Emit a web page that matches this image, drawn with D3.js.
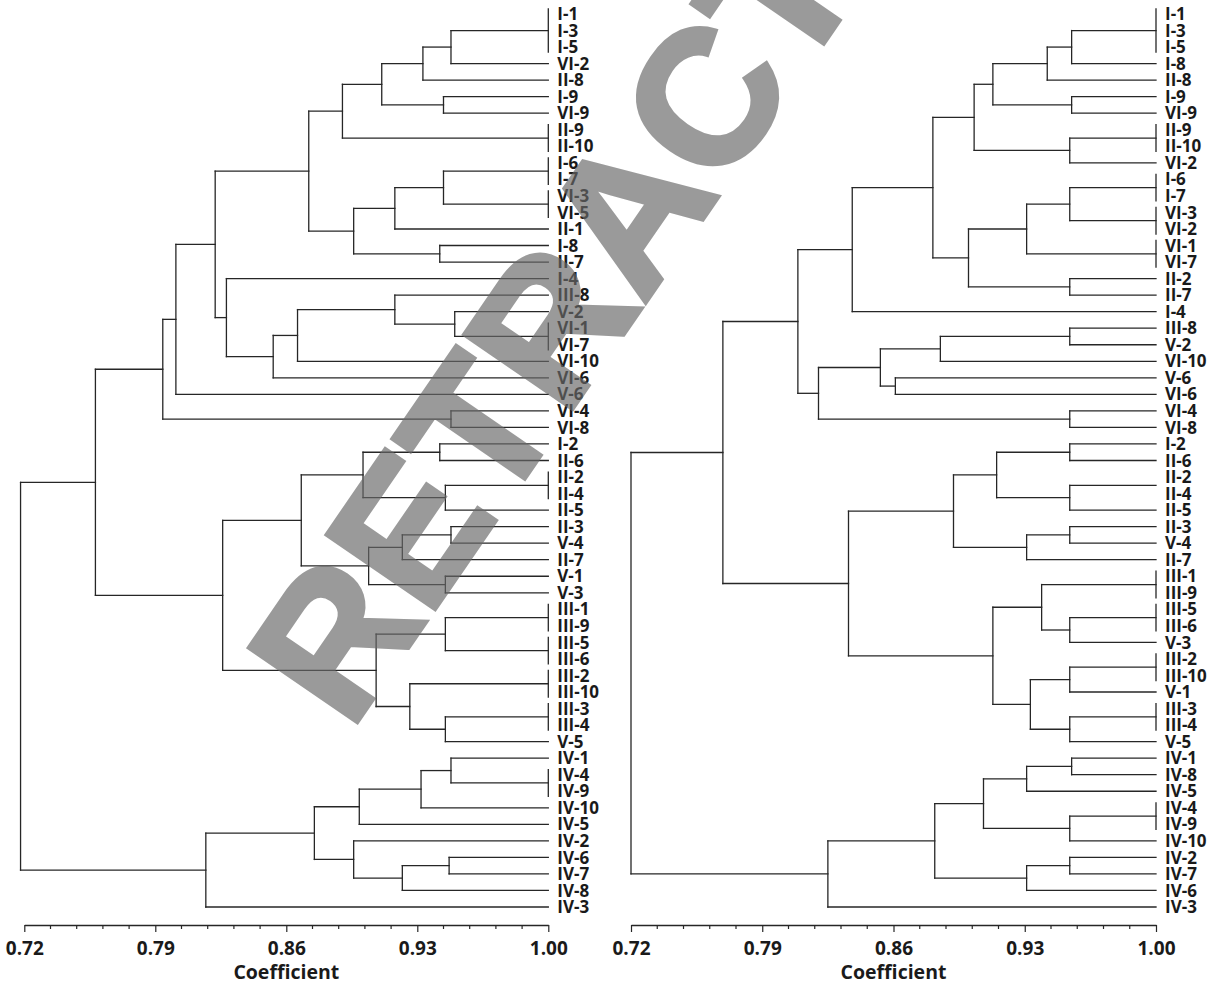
<!DOCTYPE html>
<html>
<head>
<meta charset="utf-8">
<script src="https://cdn.jsdelivr.net/npm/d3@7"></script>
<style>
body{margin:0;background:#fff;}
.lbl,.tick text,.title{font-family:"Open Sans",sans-serif;font-weight:700;fill:#1a1a1a;}
</style>
</head>
<body>
<script>
// leaf order, top to bottom
var leftLeaves=["I-1","I-3","I-5","VI-2","II-8","I-9","VI-9","II-9","II-10","I-6","I-7","VI-3","VI-5","II-1","I-8","II-7","I-4","III-8","V-2","VI-1","VI-7","VI-10","VI-6","V-6","VI-4","VI-8","I-2","II-6","II-2","II-4","II-5","II-3","V-4","II-7","V-1","V-3","III-1","III-9","III-5","III-6","III-2","III-10","III-3","III-4","V-5","IV-1","IV-4","IV-9","IV-10","IV-5","IV-2","IV-6","IV-7","IV-8","IV-3"]
var rightLeaves=["I-1","I-3","I-5","I-8","II-8","I-9","VI-9","II-9","II-10","VI-2","I-6","I-7","VI-3","VI-2","VI-1","VI-7","II-2","II-7","I-4","III-8","V-2","VI-10","V-6","VI-6","VI-4","VI-8","I-2","II-6","II-2","II-4","II-5","II-3","V-4","II-7","III-1","III-9","III-5","III-6","V-3","III-2","III-10","V-1","III-3","III-4","V-5","IV-1","IV-8","IV-5","IV-4","IV-9","IV-10","IV-2","IV-7","IV-6","IV-3"]

// merges, bottom up: [name, coefficient, children]  (numbers = leaf index)
var leftMerges=[
  ["a1",1.00,[0,1,2]],["a2",0.948,["a1",3]],["a3",0.933,["a2",4]],["a4",0.944,[5,6]],
  ["a5",0.911,["a3","a4"]],["a6",1.00,[7,8]],["a7",0.890,["a5","a6"]],
  ["b1",1.00,[9,10]],["b2",1.00,[11,12]],["b3",0.944,["b1","b2"]],["b4",0.918,["b3",13]],
  ["b5",0.942,[14,15]],["b6",0.896,["b4","b5"]],["c1",0.872,["a7","b6"]],
  ["d1",1.00,[19,20]],["d2",0.950,[18,"d1"]],["d3",0.918,[17,"d2"]],["d4",0.866,["d3",21]],
  ["d5",0.853,["d4",22]],["d6",0.828,[16,"d5"]],["c2",0.822,["c1","d6"]],["c3",0.801,["c2",23]],
  ["e1",0.948,[24,25]],["c4",0.794,["c3","e1"]],
  ["f1",0.942,[26,27]],["f2",1.00,[28,29]],["f3",0.945,["f2",30]],["f4",0.901,["f1","f3"]],
  ["f5",0.948,[31,32]],["f6",0.922,["f5",33]],["f7",0.945,[34,35]],["f8",0.904,["f6","f7"]],
  ["f9",0.868,["f4","f8"]],
  ["g1",1.00,[36,37]],["g2",1.00,[38,39]],["g3",0.945,["g1","g2"]],["g4",1.00,[40,41]],
  ["g5",1.00,[42,43]],["g6",0.945,["g5",44]],["g7",0.926,["g4","g6"]],["g8",0.908,["g3","g7"]],
  ["h1",0.826,["f9","g8"]],["h2",0.758,["c4","h1"]],
  ["i1",1.00,[46,47]],["i2",0.948,[45,"i1"]],["i3",0.932,["i2",48]],["i4",0.899,["i3",49]],
  ["i5",0.947,[51,52]],["i6",0.922,["i5",53]],["i7",0.896,[50,"i6"]],["i8",0.875,["i4","i7"]],
  ["i9",0.817,["i8",54]],
  ["root",0.718,["h2","i9"]]
]
var rightMerges=[
  ["a1",1.00,[0,1,2]],["a2",0.955,["a1",3]],["a3",0.942,["a2",4]],["a4",0.955,[5,6]],
  ["a5",0.913,["a3","a4"]],["a6",1.00,[7,8]],["a7",0.954,["a6",9]],["a8",0.903,["a5","a7"]],
  ["b1",1.00,[10,11]],["b2",1.00,[12,13]],["b3",0.954,["b1","b2"]],["b4",1.00,[14,15]],
  ["b5",0.931,["b3","b4"]],["b6",0.954,[16,17]],["b7",0.900,["b5","b6"]],
  ["c1",0.881,["a8","b7"]],["c2",0.838,["c1",18]],
  ["d1",0.954,[19,20]],["d2",0.885,["d1",21]],["d3",0.861,[22,23]],["d4",0.853,["d2","d3"]],
  ["d5",0.954,[24,25]],["d6",0.820,["d4","d5"]],["c3",0.809,["c2","d6"]],
  ["f1",0.954,[26,27]],["f2",1.00,[28,29]],["f3",0.954,["f2",30]],["f4",0.915,["f1","f3"]],
  ["f5",0.954,[31,32]],["f6",0.931,["f5",33]],["f7",0.892,["f4","f6"]],
  ["g1",1.00,[34,35]],["g2",1.00,[36,37]],["g3",0.954,["g2",38]],["g4",0.939,["g1","g3"]],
  ["g5",1.00,[39,40]],["g6",0.954,["g5",41]],["g7",1.00,[42,43]],["g8",0.954,["g7",44]],
  ["g9",0.933,["g6","g8"]],["g10",0.913,["g4","g9"]],
  ["h1",0.836,["f7","g10"]],["h2",0.769,["c3","h1"]],
  ["i1",0.955,[45,46]],["i2",0.931,["i1",47]],["i3",1.00,[48,49]],["i4",0.954,["i3",50]],
  ["i5",0.908,["i2","i4"]],["i6",0.954,[51,52]],["i7",0.931,["i6",53]],["i8",0.882,["i5","i7"]],
  ["i9",0.825,["i8",54]],
  ["root",0.720,["h2","i9"]]
]
var rightNoBar=["f2"]
var majorTicks=[0.72,0.79,0.86,0.93,1.00]
var minorTicks=[0.734,0.748,0.762,0.776,0.804,0.818,0.832,0.846,0.874,0.888,0.902,0.916,0.944,0.958,0.972,0.986]
var axisTitle="Coefficient"
var stamp="RETRACTED"
///////////////////////////////////////////////////////////////////
var screen={width:1219,height:986};
var svg=d3.select("body").append("svg")
          .attr("width",screen.width)
          .attr("height",screen.height);

var buildTree=function(merges,leaves){
  var nodes={};
  merges.forEach(function(m){
    nodes[m[0]]={name:m[0],coef:m[1],children:m[2].map(function(c){
      if(typeof c=="number"){return {leaf:c,label:leaves[c],coef:1.00};}
      return nodes[c];
    })};
  });
  return nodes[merges[merges.length-1][0]];
}

var drawPanel=function(merges,leaves,x0,x1,noBar){
  var x=d3.scaleLinear().domain([0.72,1.00]).range([x0,x1]);
  var y=d3.scaleLinear().domain([0,leaves.length-1]).range([14,907]);
  var root=d3.hierarchy(buildTree(merges,leaves));
  root.eachAfter(function(d){
    d.px=x(d.data.coef);
    if(!d.children){d.py=y(d.data.leaf);}
    else{d.py=(d.children[0].py+d.children[d.children.length-1].py)/2;}
  });
  var segs=[];
  root.descendants().forEach(function(d){
    if(!d.children)return;
    var top=d.children[0].py, bot=d.children[d.children.length-1].py;
    var bar=d.data.coef>=1;
    if(bar&&noBar.indexOf(d.data.name)>=0)return;
    if(bar){top-=5;bot+=5;}
    segs.push([d.px,top,d.px,bot]);
    d.children.forEach(function(c){
      if(c.px>d.px){segs.push([d.px,c.py,c.px,c.py]);}
    });
  });
  var g=svg.append("g");
  g.selectAll("line.branch")
   .data(segs)
   .enter()
   .append("line")
   .attr("class","branch")
   .attr("x1",function(d){return d[0]})
   .attr("y1",function(d){return d[1]})
   .attr("x2",function(d){return d[2]})
   .attr("y2",function(d){return d[3]})
   .attr("stroke","#262626")
   .attr("stroke-width",1.3)
   .attr("stroke-linecap","square");
  g.selectAll("text.lbl")
   .data(root.leaves())
   .enter()
   .append("text")
   .attr("class","lbl")
   .attr("x",function(d){return d.px+9})
   .attr("y",function(d){return d.py})
   .attr("dy","0.36em")
   .style("font-size","17px")
   .text(function(d){return d.data.label});

  // axis
  var ax=svg.append("g").attr("transform","translate(0,925)");
  ax.call(d3.axisBottom(x).tickValues(majorTicks).tickFormat(d3.format(".2f")).tickSize(7).tickSizeOuter(0).tickPadding(10));
  ax.selectAll(".minor").data(minorTicks).enter()
    .append("line").attr("class","minor")
    .attr("x1",function(d){return x(d)}).attr("x2",function(d){return x(d)})
    .attr("y1",0).attr("y2",4)
    .attr("stroke","#262626").attr("stroke-width",1.2);
  ax.select(".domain").attr("stroke","#262626").attr("stroke-width",1.3);
  ax.selectAll(".tick line").attr("stroke","#262626").attr("stroke-width",1.2);
  ax.selectAll(".tick text").style("font-size","19px").style("font-family","'Open Sans',sans-serif").style("font-weight","700").attr("fill","#1a1a1a");
  svg.append("text")
     .attr("class","title")
     .attr("x",(x0+x1)/2)
     .attr("y",979)
     .attr("text-anchor","middle")
     .style("font-size","19.5px")
     .text(axisTitle);
}

drawPanel(leftMerges,leftLeaves,24.3,548.3,[]);
drawPanel(rightMerges,rightLeaves,631,1156,rightNoBar);

// stamp laid over the chart, semi transparent
svg.append("text")
   .attr("transform","translate(350,732) rotate(-55.5)")
   .style("font-family","'Liberation Sans',Arial,sans-serif")
   .style("font-weight","700")
   .style("font-size","190px")
   .style("fill","#696969")
   .style("stroke","#696969")
   .style("stroke-width","5px")
   .style("stroke-linejoin","miter")
   .style("opacity",0.667)
   .text(stamp);
</script>
</body>
</html>
